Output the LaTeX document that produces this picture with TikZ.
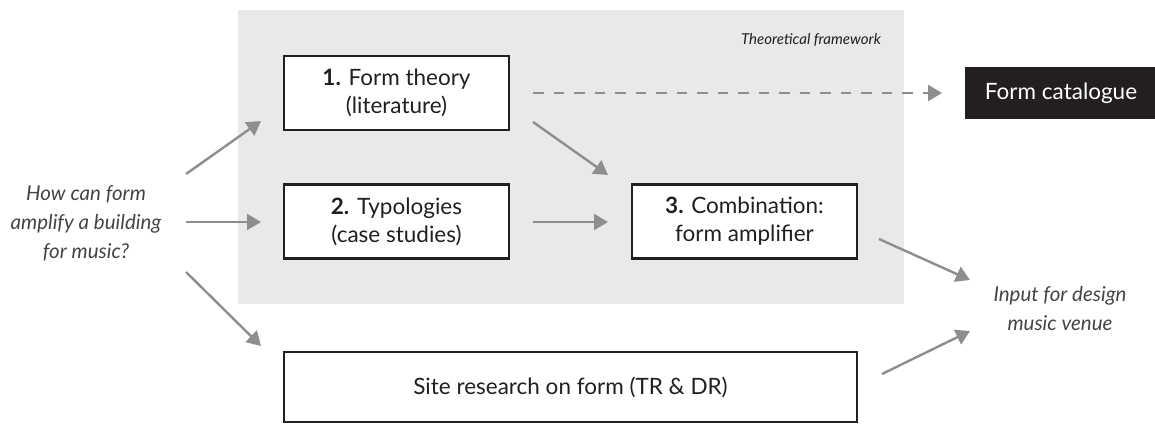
\documentclass[tikz,border=0pt]{standalone}
\usepackage{fontspec}
\setmainfont{Lato}
\usetikzlibrary{arrows.meta}
\definecolor{bggray}{HTML}{E9E9E9}
\definecolor{arrgray}{HTML}{8C8E90}
\definecolor{boxline}{HTML}{231F20}
\definecolor{txt}{HTML}{231F20}
\definecolor{qtxt}{HTML}{444444}
\begin{document}
\begin{tikzpicture}[x=1pt,y=-1pt,
  stagebox/.style={draw=boxline,line width=2.4pt,fill=white,minimum width=225pt,minimum height=74pt,inner sep=0pt,align=center,font=\fontsize{22.5}{28}\selectfont,text=txt},
  arr/.style={draw=arrgray,line width=2.4pt,-{Triangle[length=14pt,width=16pt]}},
  dasharr/.style={arr,dash pattern=on 10.5pt off 10pt},
  qtext/.style={align=center,font=\fontsize{20.5}{29}\selectfont\itshape,text=qtxt,inner sep=0pt}]
\useasboundingbox (0,0) rectangle (1155,424);
\fill[bggray] (238,10) rectangle (904,304);
\node[anchor=east,font=\fontsize{15}{18}\selectfont\itshape,text=txt,inner sep=0pt] (tf) at (881,40) {Theoretical framework};
\node[stagebox] (b1) at (396.5,93) {\textbf{1.} Form theory\\(literature)};
\node[stagebox] (b2) at (396.5,221.5) {\textbf{2.} Typologies\\(case studies)};
\node[stagebox] (b3) at (744.5,221.5) {\textbf{3.} Combination:\\form amplifier};
\node[draw=boxline,line width=2.4pt,fill=white,minimum width=573pt,minimum height=70pt,inner sep=0pt,font=\fontsize{22.5}{28}\selectfont,text=txt] (b4) at (570.5,387) {Site research on form (TR \& DR)};
\node[fill=boxline,minimum width=192pt,minimum height=52pt,inner sep=0pt,text=white,font=\fontsize{22.5}{28}\selectfont] (fc) at (1061,93) {Form catalogue};
\node[qtext] (q) at (86,223) {How can form\\amplify a building\\for music?};
\node[qtext] (inp) at (1060,309) {Input for design\\music venue};
% connector ends
\coordinate (q1s) at (186,174); \coordinate (q1e) at (261,121);
\coordinate (q2s) at (186,222); \coordinate (q2e) at (261,222);
\coordinate (q3s) at (186,272); \coordinate (q3e) at (261,346);
\coordinate (ds) at (533,93);  \coordinate (de) at (942,93);
\coordinate (d1s) at (533,122); \coordinate (d1e) at (608,175);
\coordinate (h2s) at (533,222); \coordinate (h2e) at (608,222);
\coordinate (o1s) at (879,239); \coordinate (o1e) at (970,280);
\coordinate (o2s) at (882,374); \coordinate (o2e) at (970,331);
\draw[arr] (q1s) -- (q1e);
\draw[arr] (q2s) -- (q2e);
\draw[arr] (q3s) -- (q3e);
\draw[dasharr] (ds) -- (de);
\draw[arr] (d1s) -- (d1e);
\draw[arr] (h2s) -- (h2e);
\draw[arr] (o1s) -- (o1e);
\draw[arr] (o2s) -- (o2e);
\end{tikzpicture}
\end{document}
